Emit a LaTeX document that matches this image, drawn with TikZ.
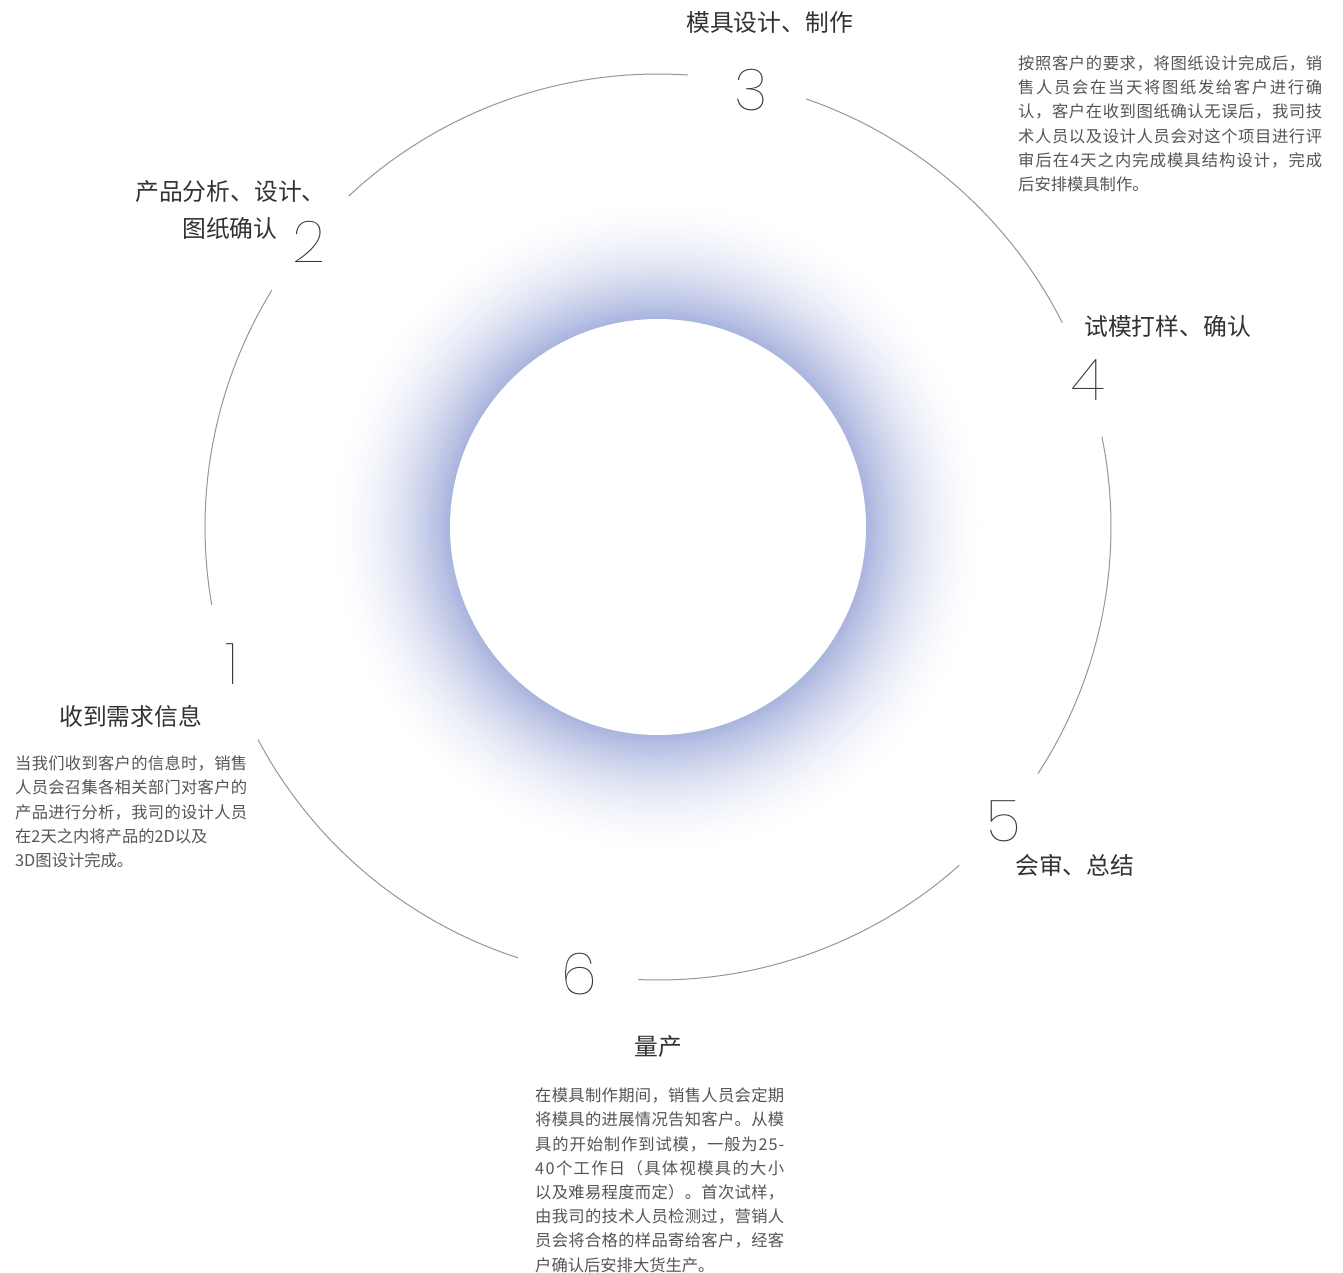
\documentclass[tikz,border=0pt]{standalone}
\usepackage{fontspec}
\newfontfamily\cjk{Noto Sans CJK SC}
\IfFontExistsTF{Poppins Thin}{\newfontfamily\numfont{Poppins Thin}}{%
 \IfFontExistsTF{Poppins ExtraLight}{\newfontfamily\numfont{Poppins ExtraLight}}{%
  \IfFontExistsTF{Open Sans Light}{\newfontfamily\numfont{Open Sans Light}}{%
    \newfontfamily\numfont{DejaVu Sans}}}}
\hbadness=10000 \hfuzz=30pt
\definecolor{glowc}{RGB}{168,179,222}
\definecolor{ringc}{RGB}{150,150,150}
\definecolor{labc}{RGB}{50,50,50}
\definecolor{numc}{RGB}{60,60,60}
\definecolor{descc}{RGB}{85,85,85}
% justified line: spread characters evenly over the given width
\def\jlx#1{#1\jly}
\def\jly#1{\ifx\relax#1\else\hfil#1\expandafter\jly\fi}
\newcommand\jl[2]{\leavevmode\hbox to #1{\vrule height 16pt depth 0pt width 0pt\jlx#2\relax}}
\newcommand\fl[1]{\leavevmode\hbox{\vrule height 16pt depth 0pt width 0pt#1}}
\begin{document}
\begin{tikzpicture}[x=1pt,y=-1pt,
  ring/.style={draw=ringc, line width=1pt},
  lab/.style={font=\cjk\fontsize{23.8}{28}\selectfont, text=labc, inner sep=0pt, anchor=west},
  num/.style={font=\numfont\fontsize{58}{64}\selectfont, text=numc, inner sep=0pt},
  desc/.style={font=\cjk\fontsize{16.3}{24.2}\selectfont, text=descc, inner sep=0pt, anchor=north west, align=left}]
\useasboundingbox (0,0) rectangle (1343,1273);
\fill[white] (0,0) rectangle (1343,1273);
\coordinate (c) at (658,527);
% soft glow: concentric discs from outside in
\foreach \i in {0,...,63}{
  \pgfmathsetmacro\rr{334-2*\i}
  \pgfmathsetmacro\tt{(334-\rr)/126}
  \pgfmathtruncatemacro\pp{min(100,100*\tt^1.9)}
  \fill[glowc!\pp!white] (c) circle[radius=\rr];
}
\fill[white] (c) circle[radius=208];
% ring arcs
\draw[ring] (c) ++(-189.9:453) arc[start angle=-189.9, end angle=-148.5, radius=453];
\draw[ring] (c) ++(-133.1:453) arc[start angle=-133.1, end angle=-86.2, radius=453];
\draw[ring] (c) ++(-70.9:453) arc[start angle=-70.9, end angle=-26.8, radius=453];
\draw[ring] (c) ++(-11.5:453) arc[start angle=-11.5, end angle=33, radius=453];
\draw[ring] (c) ++(48.3:453) arc[start angle=48.3, end angle=92.5, radius=453];
\draw[ring] (c) ++(108:453) arc[start angle=108, end angle=152, radius=453];
% numbers
\node[num] (n1) at (232,664) {1};
\node[num] (n2) at (309,241.5) {2};
\node[num] (n3) at (751.5,90) {3};
\node[num] (n4) at (1088,380.5) {4};
\node[num] (n5) at (1004,821.5) {5};
\node[num] (n6) at (579,974.5) {6};
% labels
\node[lab] (l1) at (59,716) {收到需求信息};
\node[lab] (l2a) at (135,191.5) {产品分析、设计、};
\node[lab] (l2b) at (182,228) {图纸确认};
\node[lab] (l3) at (686,22) {模具设计、制作};
\node[lab] (l4) at (1084,326) {试模打样、确认};
\node[lab] (l5) at (1015,865) {会审、总结};
\node[lab] (l6) at (634,1047) {量产};
% descriptions
\node[desc, text width=232pt] (d1) at (15,753.4) {%
\jl{232pt}{当我们收到客户的信息时，销售}\\
\jl{232pt}{人员会召集各相关部门对客户的}\\
\jl{232pt}{产品进行分析，我司的设计人员}\\
\fl{在2天之内将产品的2D以及}\\
\fl{3D图设计完成。}};
\node[desc, text width=304pt] (d3) at (1018,53.4) {%
\jl{304pt}{按照客户的要求，将图纸设计完成后，销}\\
\jl{304pt}{售人员会在当天将图纸发给客户进行确}\\
\jl{304pt}{认，客户在收到图纸确认无误后，我司技}\\
\jl{304pt}{术人员以及设计人员会对这个项目进行评}\\
\jl{304pt}{审后在4天之内完成模具结构设计，完成}\\
\fl{后安排模具制作。}};
\node[desc, text width=249pt] (d6) at (535,1085.4) {%
\jl{249pt}{在模具制作期间，销售人员会定期}\\
\jl{249pt}{将模具的进展情况告知客户。从模}\\
\jl{249pt}{具的开始制作到试模，一般为25-}\\
\jl{249pt}{40个工作日（具体视模具的大小}\\
\jl{249pt}{以及难易程度而定）。首次试样，}\\
\jl{249pt}{由我司的技术人员检测过，营销人}\\
\jl{249pt}{员会将合格的样品寄给客户，经客}\\
\fl{户确认后安排大货生产。}};
\end{tikzpicture}
\end{document}
